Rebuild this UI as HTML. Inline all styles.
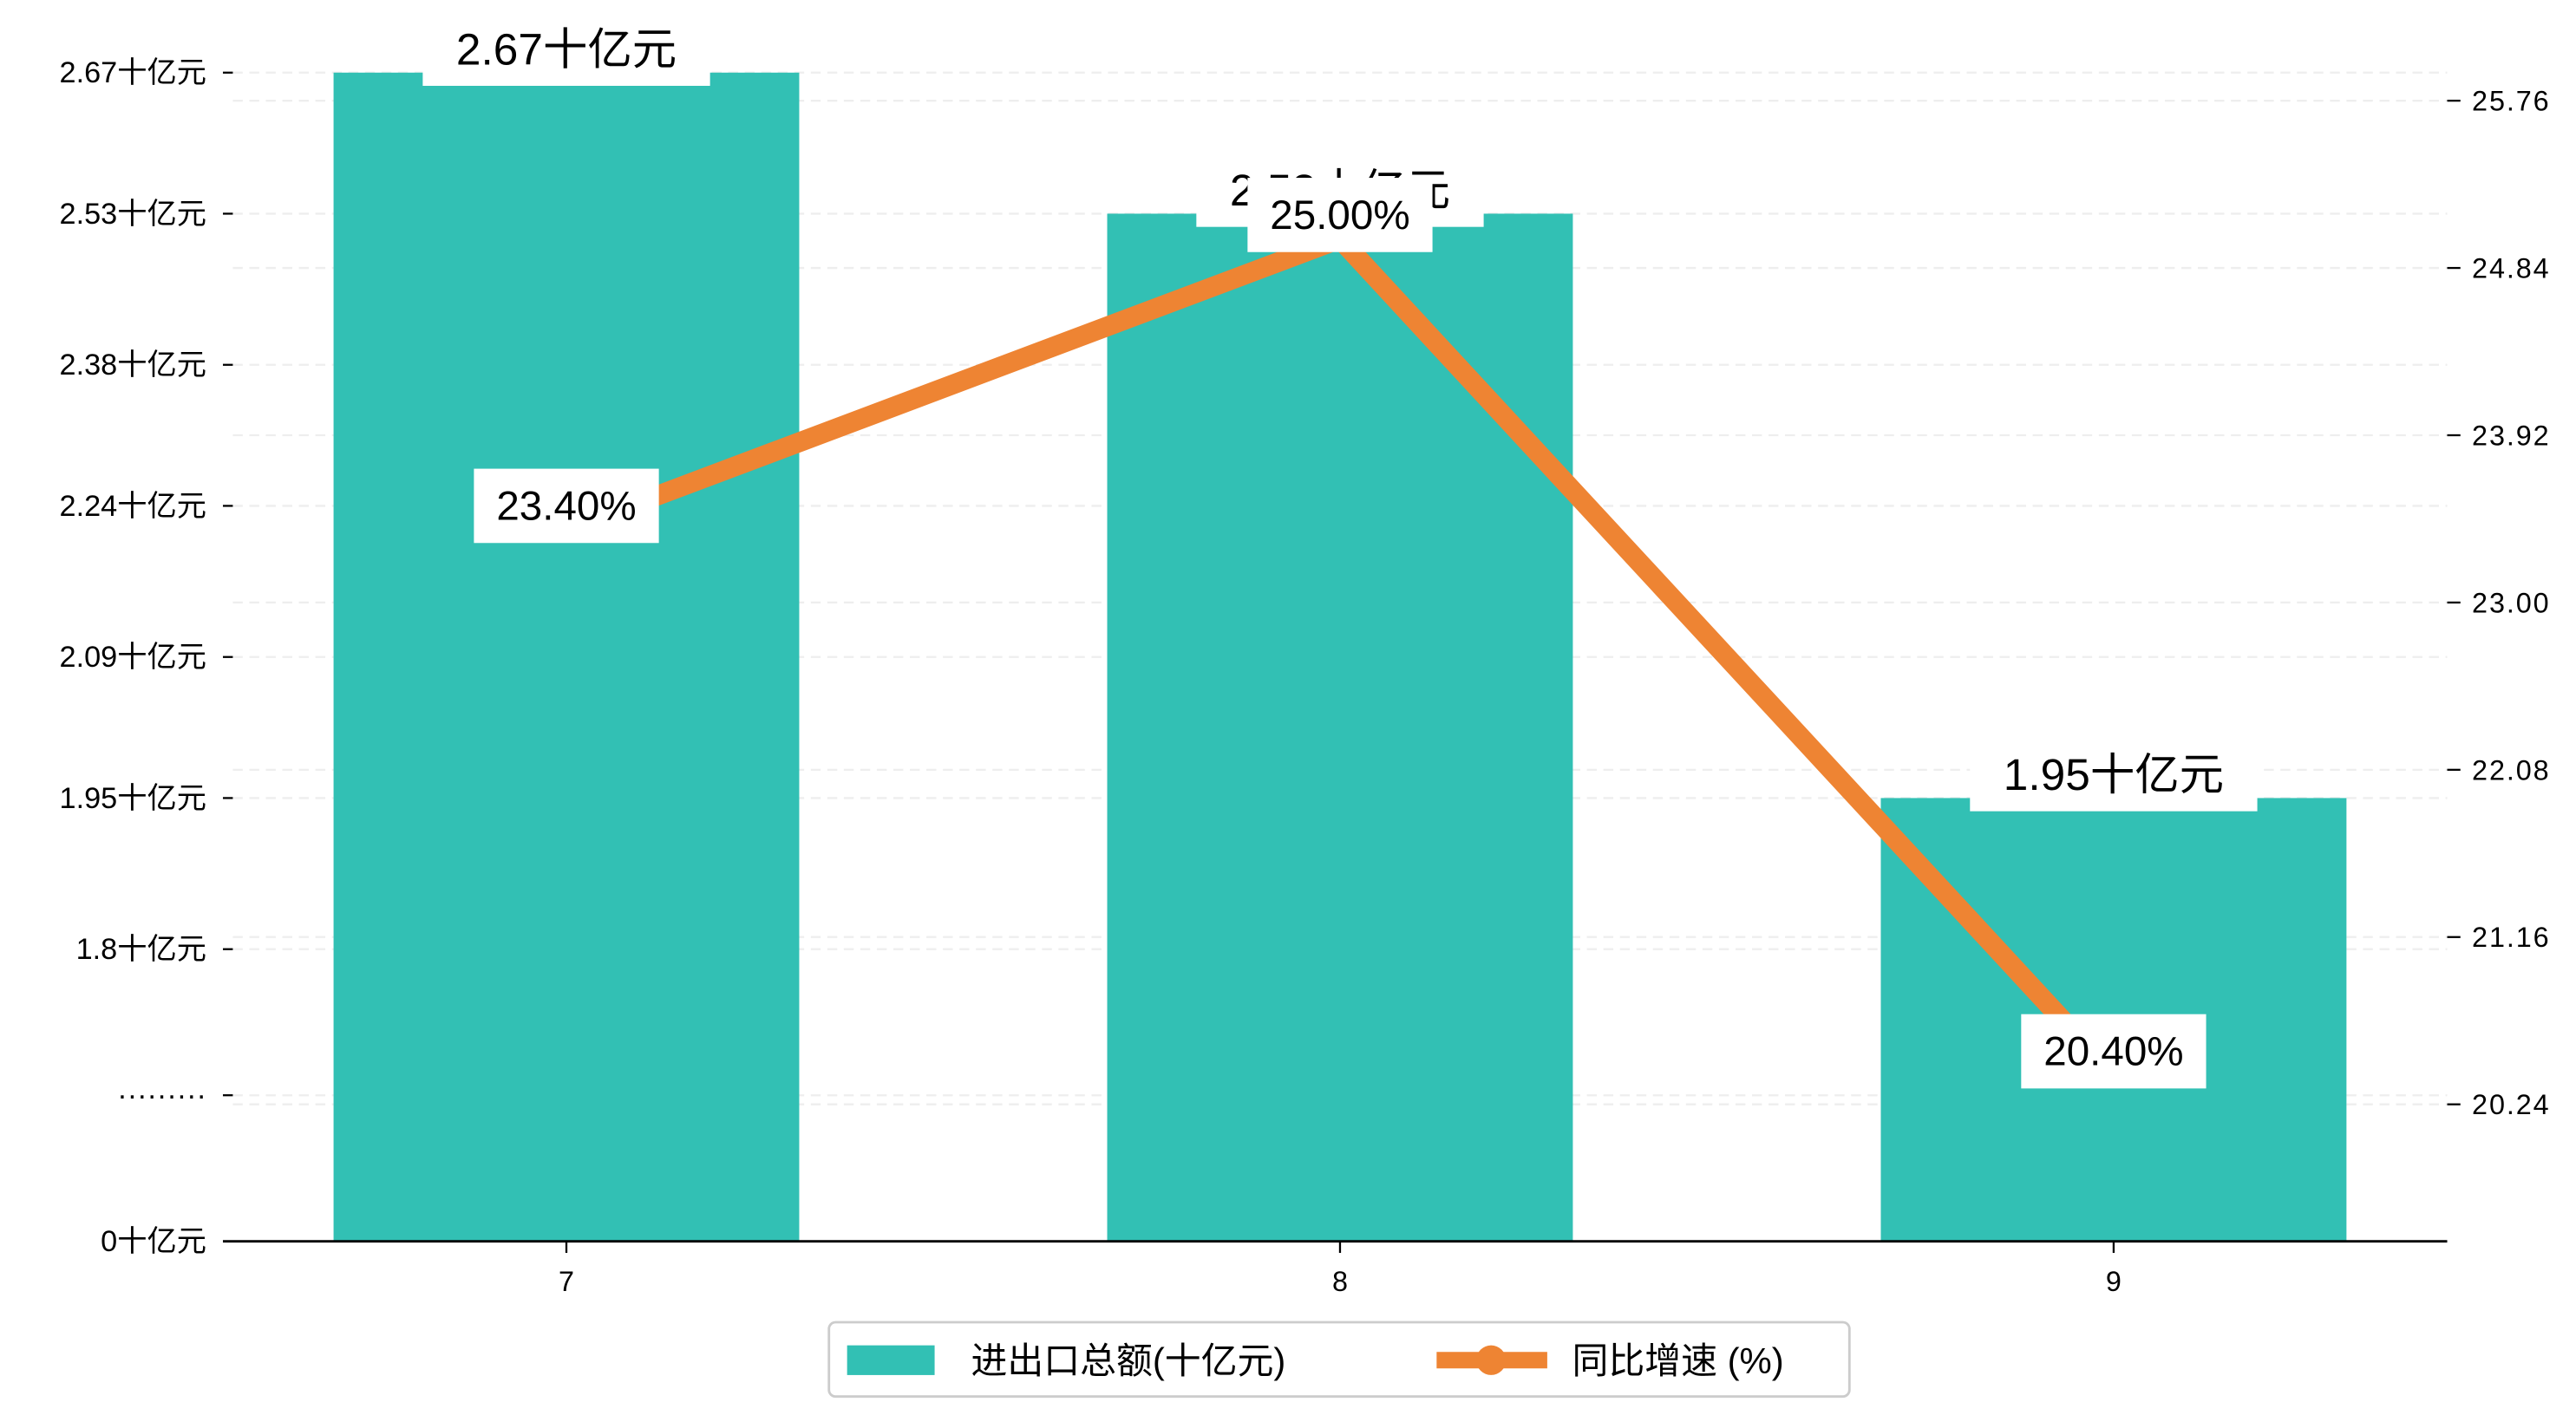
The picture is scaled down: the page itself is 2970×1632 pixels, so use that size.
<!DOCTYPE html>
<html><head><meta charset="utf-8"><style>
html,body{margin:0;padding:0;background:#fff;}
svg{display:block;}
text{font-family:"Liberation Sans","Noto Sans CJK SC",sans-serif;}
</style></head><body>
<svg id="chart" width="2970" height="1632" viewBox="0 0 1560 857.2" preserveAspectRatio="none" xmlns="http://www.w3.org/2000/svg">
<g id="grid"></g>
<g id="bars"></g>
<g id="line"></g>
<g id="axes"></g>
<g id="labels"></g>
<g id="legend">
  <rect x="502" y="801" width="618" height="45" rx="4" fill="#fff" stroke="#ccc" stroke-width="1.5"/>
  <rect x="513" y="815" width="53" height="18" fill="#32c0b4"/>
  <text x="588" y="832" font-size="22">进出口总额(十亿元)</text>
  <line x1="870" y1="824" x2="937" y2="824" stroke="#ee8433" stroke-width="10"/>
  <circle cx="903" cy="824" r="9" fill="#ee8433"/>
  <text x="952" y="832" font-size="22">同比增速 (%)</text>
</g>
</svg>
<script>
const categories = ["7", "8", "9"];
const tradeValues = [2.67, 2.53, 1.95];
const growthValues = [23.40, 25.00, 20.40];
const leftTickValues = [2.67, 2.53, 2.38, 2.24, 2.09, 1.95, 1.8, 1.655, 1.51];
const leftTickLabels = ["2.67十亿元", "2.53十亿元", "2.38十亿元", "2.24十亿元", "2.09十亿元", "1.95十亿元", "1.8十亿元", "·········", "0十亿元"];
const rightTickValues = [25.76, 24.84, 23.92, 23.00, 22.08, 21.16, 20.24];
const rightTickLabels = ["25.76", "24.84", "23.92", "23.00", "22.08", "21.16", "20.24"];

const NS = "http://www.w3.org/2000/svg";
const plotL = 135, plotR = 1482, baseY = 752;
function xPos(i){ return 343 + i * 468.5; }
function yLeft(v){ return 752 + (v - 1.51) * (44 - 752) / (2.67 - 1.51); }
function yRight(v){ return 365 + (v - 23.00) * (61 - 365) / (25.76 - 23.00); }
function mk(tag, attrs, parent){ const e = document.createElementNS(NS, tag); for (const k in attrs) e.setAttribute(k, attrs[k]); parent.appendChild(e); return e; }

const grid = document.getElementById('grid');
const bars = document.getElementById('bars');
const lineG = document.getElementById('line');
const axes = document.getElementById('axes');
const labels = document.getElementById('labels');

leftTickValues.forEach((v, i) => {
  const y = yLeft(v);
  if (i < leftTickValues.length - 1) {
    const g = mk('line', {x1: 141, x2: plotR, y1: y, y2: y, stroke: '#eeeeee', 'stroke-width': 1.2, 'stroke-dasharray': '6 4'}, grid);
    
    
  }
  const t = mk('line', {x1: plotL, x2: plotL + 6, y1: y, y2: y, stroke: '#000', 'stroke-width': 1.2}, axes);
  
  
  const l = mk('text', {x: 125, y: y + 6, 'font-size': 18, 'text-anchor': 'end'}, axes);
  l.textContent = leftTickLabels[i];
  
  
});
rightTickValues.forEach((v, i) => {
  const y = yRight(v);
  const g = mk('line', {x1: 141, x2: plotR, y1: y, y2: y, stroke: '#eeeeee', 'stroke-width': 1.2, 'stroke-dasharray': '6 4'}, grid);
  
  
  const t = mk('line', {x1: plotR, x2: plotR + 8, y1: y, y2: y, stroke: '#000', 'stroke-width': 1.2}, axes);
  
  
  const l = mk('text', {x: 1497, y: y + 6, 'font-size': 17, 'font-family': 'Liberation Mono, monospace', 'letter-spacing': '1'}, axes);
  l.textContent = rightTickLabels[i];
  
  
});

categories.forEach((c, i) => {
  const x = xPos(i), y = yLeft(tradeValues[i]);
  const b = mk('rect', {x: x - 141, y: y, width: 282, height: baseY - y, fill: '#32c0b4'}, bars);
  
  
  const t = mk('line', {x1: x, x2: x, y1: baseY, y2: baseY + 7, stroke: '#000', 'stroke-width': 1.2}, axes);
  
  
  const l = mk('text', {x: x, y: baseY + 30, 'font-size': 17, 'text-anchor': 'middle'}, axes);
  l.textContent = c;
  
  
});
const spine = mk('line', {x1: plotL, x2: plotR, y1: baseY, y2: baseY, stroke: '#000', 'stroke-width': 1.5}, axes);



const pts = growthValues.map((v, i) => xPos(i) + ',' + yRight(v)).join(' ');
const pl = mk('polyline', {points: pts, fill: 'none', stroke: '#ee8433', 'stroke-width': 12, 'stroke-linejoin': 'miter'}, lineG);



categories.forEach((c, i) => {
  const x = xPos(i), y = yLeft(tradeValues[i]);
  const bx = mk('rect', {x: x - 87, y: y - 30, width: 174, height: 38, fill: '#fff'}, labels);
  
  
  const t = mk('text', {x: x, y: y - 5, 'font-size': 27, 'text-anchor': 'middle'}, labels);
  t.textContent = tradeValues[i].toFixed(2) + '十亿元';
  
  
});
growthValues.forEach((v, i) => {
  const x = xPos(i), y = yRight(v) - 15;
  const bx = mk('rect', {x: x - 56, y: y - 22, width: 112, height: 45, fill: '#fff'}, labels);
  
  
  const t = mk('text', {x: x, y: y + 9, 'font-size': 25, 'text-anchor': 'middle'}, labels);
  t.textContent = v.toFixed(2) + '%';
  
  
});
</script>
</body></html>
